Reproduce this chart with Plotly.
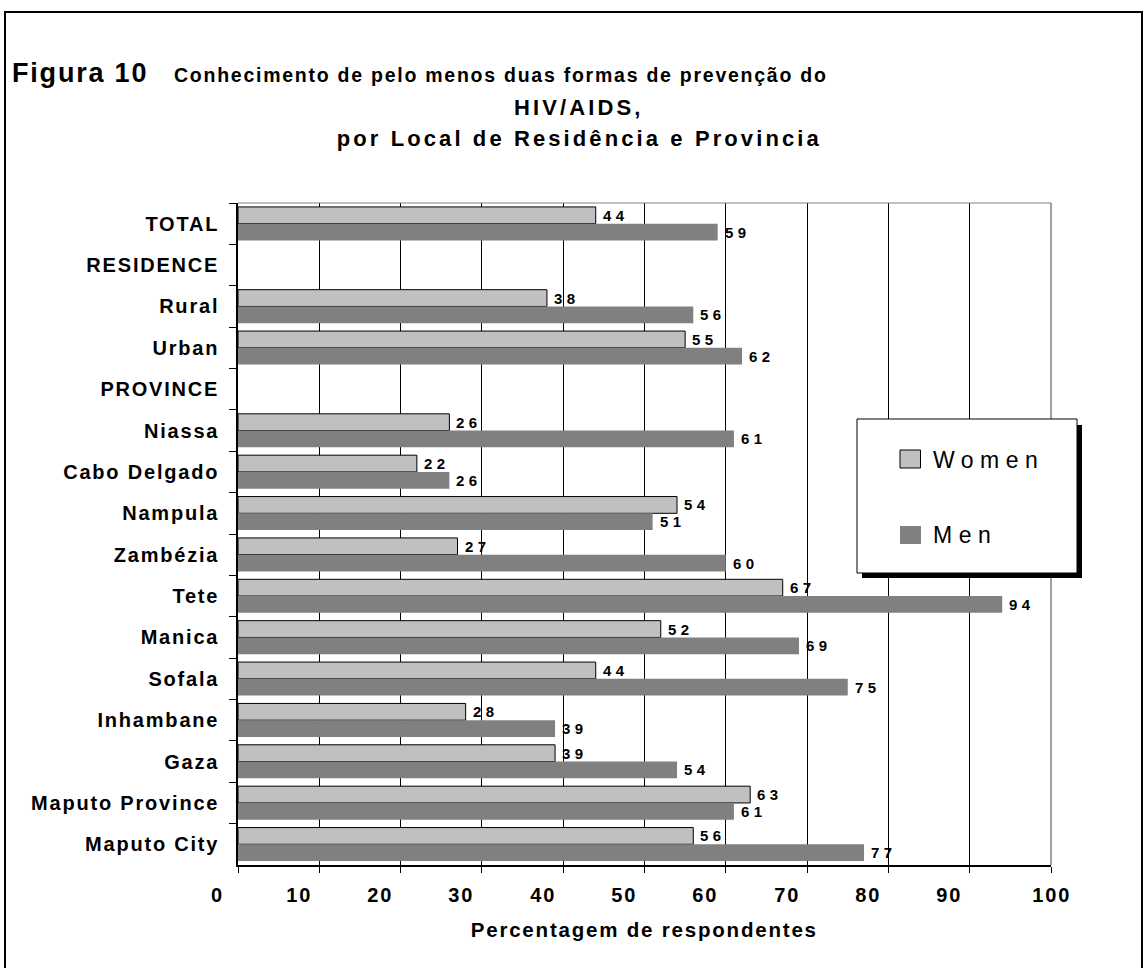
import plotly.graph_objects as go

# ---------------- data ----------------
categories = ["TOTAL", "RESIDENCE", "Rural", "Urban", "PROVINCE", "Niassa",
              "Cabo Delgado", "Nampula", "Zambézia", "Tete", "Manica", "Sofala",
              "Inhambane", "Gaza", "Maputo Province", "Maputo City"]
women = [44, None, 38, 55, None, 26, 22, 54, 27, 67, 52, 44, 28, 39, 63, 56]
men = [59, None, 56, 62, None, 61, 26, 51, 60, 94, 69, 75, 39, 54, 61, 77]
x_ticks = [0, 10, 20, 30, 40, 50, 60, 70, 80, 90, 100]
series_names = ["Women", "Men"]
title_prefix = "Figura 10"
title_lines = ["Conhecimento de pelo menos duas formas de prevenção do",
               "HIV/AIDS,",
               "por Local de Residência e Provincia"]
x_title = "Percentagem de respondentes"

# ---------------- layout helpers ----------------
W, H = 1144, 968
ML, MR, MT, MB = 238, 93, 203, 103
PW, PH = W - ML - MR, H - MT - MB


def px(x):
    return (x - ML) / PW


def py(y):
    return (H - MB - y) / PH


FONT = "Liberation Sans, Arial, sans-serif"
WOMEN_C = "#C0C0C0"
MEN_C = "#808080"

fig = go.Figure()
fig.add_trace(go.Bar(y=categories, x=women, orientation="h", name=series_names[0],
                     marker=dict(color=WOMEN_C, line=dict(color="black", width=1))))
fig.add_trace(go.Bar(y=categories, x=men, orientation="h", name=series_names[1],
                     marker=dict(color=MEN_C, line=dict(width=0))))

ann = []
# value labels
for vals, ys in ((women, 8.4), (men, -8.4)):
    for cat, v in zip(categories, vals):
        if v is None:
            continue
        ann.append(dict(x=v, y=cat, xref="x", yref="y", text=str(v), showarrow=False,
                        xanchor="left", yanchor="middle", align="left", xshift=6, yshift=ys,
                        borderpad=0,
                        font=dict(size=15, family=FONT, color="black", weight=700)))
# x tick labels
for v in x_ticks:
    ann.append(dict(x=v, y=0, xref="x", yref="paper", text=str(v), showarrow=False,
                    xanchor="center", yanchor="middle", align="center",
                    xshift=(0 if v == 100 else -20.5), yshift=-29.5, borderpad=0,
                    font=dict(size=20, family=FONT, color="black", weight=700)))
# axis title
ann.append(dict(x=0.5, y=0, xref="paper", yref="paper", text=x_title, showarrow=False,
                xanchor="center", yanchor="middle", align="center", yshift=-64.5, borderpad=0,
                font=dict(size=20.5, family=FONT, color="black", weight=700)))
# title
ann.append(dict(x=px(11), y=py(72.8), xref="paper", yref="paper", text=title_prefix,
                showarrow=False, xanchor="left", yanchor="middle", align="left", borderpad=0,
                font=dict(size=27, family=FONT, color="black", weight=700)))
ann.append(dict(x=px(173), y=py(75.4), xref="paper", yref="paper", text=title_lines[0],
                showarrow=False, xanchor="left", yanchor="middle", align="left", borderpad=0,
                font=dict(size=19.5, family=FONT, color="black", weight=700)))
ann.append(dict(x=px(578), y=py(107.5), xref="paper", yref="paper", text=title_lines[1],
                showarrow=False, xanchor="center", yanchor="middle", align="center", borderpad=0,
                font=dict(size=22, family=FONT, color="black", weight=700)))
ann.append(dict(x=px(579), y=py(139), xref="paper", yref="paper", text=title_lines[2],
                showarrow=False, xanchor="center", yanchor="middle", align="center", borderpad=0,
                font=dict(size=22, family=FONT, color="black", weight=700)))
# legend texts
for name, yc in ((series_names[0], 460), (series_names[1], 535)):
    ann.append(dict(x=px(932), y=py(yc), xref="paper", yref="paper", text=name,
                    showarrow=False, xanchor="left", yanchor="middle", align="left", borderpad=0,
                    font=dict(size=23, family=FONT, color="black")))

shapes = []
# outer frame
shapes.append(dict(type="rect", xref="paper", yref="paper", x0=px(5), x1=px(1142),
                   y0=py(990), y1=py(12), line=dict(color="black", width=2), layer="above"))
# plot area top and right borders (gray)
shapes.append(dict(type="line", xref="paper", yref="paper", x0=0, x1=1, y0=1, y1=1,
                   line=dict(color="#808080", width=1), layer="above"))
shapes.append(dict(type="line", xref="paper", yref="paper", x0=1, x1=1, y0=0, y1=1,
                   line=dict(color="#808080", width=1.5), layer="above"))
# legend box with shadow
shapes.append(dict(type="rect", xref="paper", yref="paper", x0=px(862), x1=px(1082),
                   y0=py(578), y1=py(425), fillcolor="black", line=dict(width=0), layer="above"))
shapes.append(dict(type="rect", xref="paper", yref="paper", x0=px(857), x1=px(1077),
                   y0=py(573), y1=py(419), fillcolor="white", line=dict(color="black", width=1),
                   layer="above"))
shapes.append(dict(type="rect", xref="paper", yref="paper", x0=px(900), x1=px(920.5),
                   y0=py(468), y1=py(450), fillcolor=WOMEN_C, line=dict(color="black", width=1),
                   layer="above"))
shapes.append(dict(type="rect", xref="paper", yref="paper", x0=px(900), x1=px(921),
                   y0=py(544), y1=py(526), fillcolor=MEN_C, line=dict(width=0), layer="above"))

fig.update_layout(
    width=W, height=H,
    margin=dict(l=ML, r=MR, t=MT, b=MB, autoexpand=False),
    paper_bgcolor="white", plot_bgcolor="white",
    barmode="group", bargap=0.19, bargroupgap=0,
    showlegend=False,
    font=dict(family=FONT, color="black"),
    annotations=ann, shapes=shapes,
    xaxis=dict(range=[0, 100], tickvals=x_ticks, showticklabels=False,
               showgrid=True, gridcolor="black", gridwidth=1,
               showline=True, linecolor="black", linewidth=1.5,
               ticks="outside", ticklen=6, tickcolor="black", tickwidth=1,
               zeroline=False, automargin=False, fixedrange=True),
    yaxis=dict(autorange="reversed", type="category", categoryorder="array",
               categoryarray=categories, tickson="boundaries",
               ticks="outside", ticklen=7, tickcolor="black", tickwidth=1,
               showline=True, linecolor="black", linewidth=1.5, showgrid=False,
               tickfont=dict(size=20, family=FONT, color="black", weight=700),
               ticklabelstandoff=13, automargin=False, fixedrange=True),
)

post = """
document.documentElement.style.margin = '0';
document.documentElement.style.overflow = 'hidden';
document.body.style.margin = '0';
document.body.style.padding = '0';
document.body.style.overflow = 'hidden';
var gd = document.getElementById('{plot_id}');
var sp = {'27px':'1.8px','19.5px':'1.75px','22px':'3.1px','20px':'1.8px','20.5px':'1.8px',
          '23px':'6.5px','15px':'4.5px'};
function fixSpacing(){
  gd.querySelectorAll('text').forEach(function(t){
    var f = t.style.fontSize;
    if (sp[f]) { t.style.letterSpacing = sp[f]; }
  });
}
fixSpacing();
gd.on('plotly_afterplot', fixSpacing);
"""

fig.write_html("out.html", post_script=post, config={"displayModeBar": False})
